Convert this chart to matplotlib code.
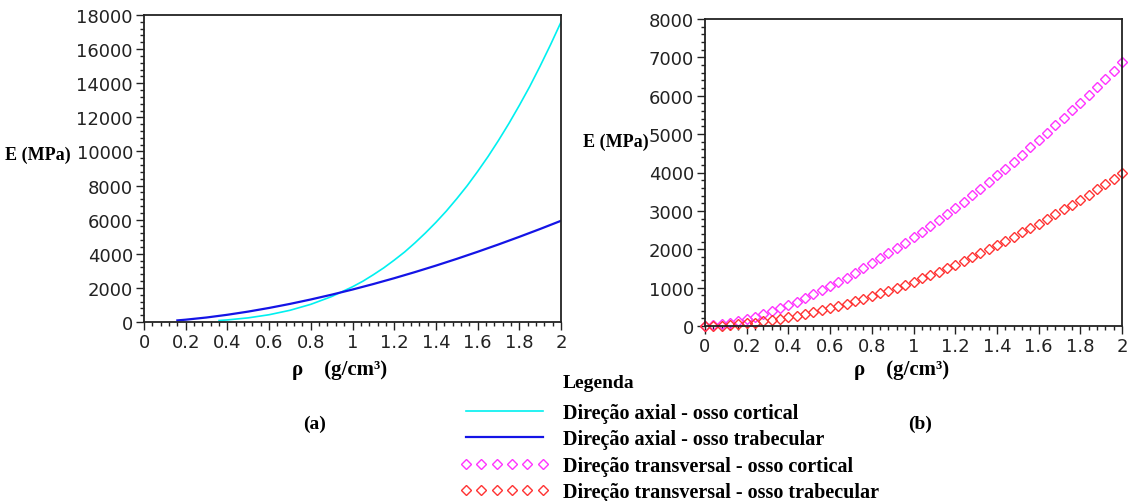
import matplotlib
matplotlib.use("Agg")
import matplotlib.pyplot as plt
from matplotlib.ticker import MultipleLocator

# (a) axial direction, continuous curves
rho_cort_ax = [0.36, 0.4, 0.5, 0.6, 0.7, 0.8, 0.9, 1.0, 1.05, 1.1, 1.15, 1.2,
               1.25, 1.3, 1.35, 1.4, 1.45, 1.5, 1.55, 1.6, 1.65, 1.7, 1.75,
               1.8, 1.85, 1.9, 1.95, 2.0]
E_cort_ax = [88, 122, 243, 426, 686, 1036, 1491, 2065, 2393, 2772, 3175, 3627,
             4105, 4645, 5223, 5841, 6505, 7228, 7991, 8824, 9699, 10642, 11637,
             12698, 13808, 15007, 16263, 17584]

rho_trab_ax = [0.16, 0.2, 0.3, 0.4, 0.5, 0.6, 0.7, 0.8, 0.9, 1.0, 1.1, 1.2,
               1.3, 1.4, 1.5, 1.6, 1.7, 1.8, 1.9, 2.0]
E_trab_ax = [94, 136, 264, 424, 611, 824, 1061, 1321, 1602, 1904, 2226, 2568,
             2928, 3306, 3702, 4116, 4546, 4993, 5455, 5934]

# (b) transverse direction, point samples
rho_tr = [0.0, 0.04, 0.08, 0.12, 0.16, 0.2, 0.24, 0.28, 0.32, 0.36, 0.4,
          0.44, 0.48, 0.52, 0.56, 0.6, 0.64, 0.68, 0.72, 0.76, 0.8,
          0.84, 0.88, 0.92, 0.96, 1.0, 1.04, 1.08, 1.12, 1.16, 1.2,
          1.24, 1.28, 1.32, 1.36, 1.4, 1.44, 1.48, 1.52, 1.56, 1.6,
          1.64, 1.68, 1.72, 1.76, 1.8, 1.84, 1.88, 1.92, 1.96, 2.0]
E_cort_tr = [0, 15, 44, 83, 130, 185, 246, 314, 387, 465, 549,
             638, 731, 829, 931, 1038, 1148, 1263, 1382, 1504, 1630,
             1760, 1893, 2030, 2170, 2314, 2461, 2611, 2765, 2921, 3081,
             3244, 3409, 3578, 3750, 3925, 4102, 4282, 4466, 4652, 4840,
             5032, 5226, 5422, 5621, 5823, 6028, 6234, 6444, 6656, 6870]
E_trab_tr = [0, 4, 13, 27, 44, 66, 91, 120, 152, 188, 226,
             268, 313, 361, 412, 466, 523, 582, 645, 710, 778,
             848, 922, 997, 1076, 1157, 1241, 1327, 1416, 1507, 1601,
             1697, 1795, 1897, 2000, 2106, 2214, 2325, 2438, 2553, 2671,
             2791, 2913, 3038, 3165, 3294, 3426, 3559, 3695, 3833, 3974]

labels = ["Direção axial - osso cortical",
          "Direção axial - osso trabecular",
          "Direção transversal - osso cortical",
          "Direção transversal - osso trabecular"]

serif_bold = dict(family="Liberation Serif", fontweight="bold")

fig = plt.figure(figsize=(11.36, 5.02), dpi=100)
W, H = 1136, 502
ax1 = fig.add_axes([144 / W, 1 - 323 / H, (561 - 144) / W, (323 - 16) / H])
ax2 = fig.add_axes([705 / W, 1 - 327 / H, (1122 - 705) / W, (327 - 20) / H])

l1, = ax1.plot(rho_cort_ax, E_cort_ax, color="#00f0f0", lw=1.2, label=labels[0])
l2, = ax1.plot(rho_trab_ax, E_trab_ax, color="#1414e6", lw=1.6, label=labels[1])
ax1.set_ylim(0, 18000)
ax1.yaxis.set_major_locator(MultipleLocator(2000))
ax1.yaxis.set_minor_locator(MultipleLocator(400))

l3, = ax2.plot(rho_tr, E_cort_tr, ls="none", marker="D", ms=5, mfc="none",
               mec="#ff33ff", mew=1.0, label=labels[2], clip_on=False)
l4, = ax2.plot(rho_tr, E_trab_tr, ls="none", marker="D", ms=5, mfc="none",
               mec="#ff3333", mew=1.0, label=labels[3], clip_on=False)
ax2.set_ylim(0, 8000)
ax2.yaxis.set_major_locator(MultipleLocator(1000))
ax2.yaxis.set_minor_locator(MultipleLocator(200))

for ax in (ax1, ax2):
    ax.set_xlim(0, 2)
    ax.xaxis.set_major_locator(MultipleLocator(0.2))
    ax.xaxis.set_minor_locator(MultipleLocator(0.04))
    ax.xaxis.set_major_formatter(plt.FuncFormatter(lambda v, p: "%g" % round(v, 1)))
    ax.tick_params(which="both", direction="out", labelsize=13, color="#222222",
                   labelcolor="#222222", pad=2)
    ax.tick_params(which="major", length=6, width=1)
    ax.tick_params(which="minor", length=3, width=1)
    for s in ax.spines.values():
        s.set_linewidth(1.3)
        s.set_color("#222222")

fig.text(5 / W, 1 - 155 / H, "E (MPa)", fontsize=13, va="center", ha="left", **serif_bold)
fig.text(583 / W, 1 - 142 / H, "E (MPa)", fontsize=13, va="center", ha="left", **serif_bold)
fig.text(340 / W, 1 - 370 / H, "ρ    (g/cm³)", fontsize=15, va="center", ha="center", **serif_bold)
fig.text(902 / W, 1 - 370 / H, "ρ    (g/cm³)", fontsize=15, va="center", ha="center", **serif_bold)
fig.text(315 / W, 1 - 424 / H, "(a)", fontsize=14, va="center", ha="center", **serif_bold)
fig.text(920 / W, 1 - 424 / H, "(b)", fontsize=14, va="center", ha="center", **serif_bold)
fig.text(563 / W, 1 - 384 / H, "Legenda", fontsize=14, va="center", ha="left", **serif_bold)

leg = fig.legend(handles=[l1, l2, l3, l4], loc="upper left",
                 bbox_to_anchor=(460 / W, 1 - 404 / H), frameon=False,
                 borderpad=0, borderaxespad=0, numpoints=6, handlelength=4.4,
                 handletextpad=0.7, labelspacing=0.32,
                 prop=dict(family="Liberation Serif", weight="bold", size=14.5))

fig.savefig("out.png", dpi=100)
